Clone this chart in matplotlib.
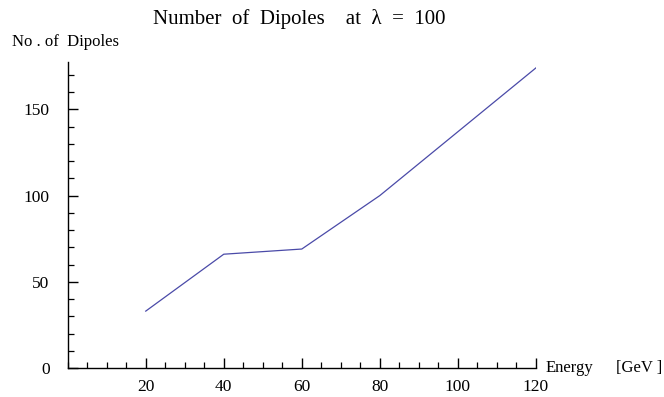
import numpy as np
import matplotlib
matplotlib.use("Agg")
import matplotlib.pyplot as plt
from matplotlib.ticker import MultipleLocator

energy = [20, 40, 60, 80, 100, 120]
n_dipoles = [33, 66, 69, 100, 137, 174]

plt.rcParams['font.family'] = ['Liberation Serif', 'DejaVu Serif']

fig = plt.figure(figsize=(6.64, 3.97), dpi=100)
ax = fig.add_axes([0.102, 0.073, 0.705, 0.771])

ax.plot(energy, n_dipoles, color='#4a4aa8', lw=0.9)

ax.set_xlim(0, 120)
ax.set_ylim(0, 177.5)
for s in ['top', 'right']:
    ax.spines[s].set_visible(False)
for s in ['left', 'bottom']:
    ax.spines[s].set_linewidth(1.0)

ax.xaxis.set_major_locator(MultipleLocator(20))
ax.xaxis.set_minor_locator(MultipleLocator(5))
ax.yaxis.set_major_locator(MultipleLocator(50))
ax.yaxis.set_minor_locator(MultipleLocator(10))
ax.set_xticks([20, 40, 60, 80, 100, 120])
ax.tick_params(which='major', direction='in', length=7, width=1.0, labelsize=12.5)
ax.tick_params(which='minor', direction='in', length=4.5, width=0.9)
ax.tick_params(axis='x', pad=8)
ax.tick_params(axis='y', pad=13)

# axis labels sit off the ends of the axes, Mathematica style
ax.text(1.02, 0, 'Energy', transform=ax.transAxes,
        fontsize=12, va='center', ha='left')
fig.text(0.998, 0.073, '[GeV ]', fontsize=12, va='center', ha='right')
fig.text(0.018, 0.895, 'No . of  Dipoles', fontsize=12, va='center', ha='left')
fig.text(0.45, 0.952, 'Number  of  Dipoles    at  λ  =  100',
         fontsize=15, va='center', ha='center')

fig.savefig('out.png', dpi=100)
